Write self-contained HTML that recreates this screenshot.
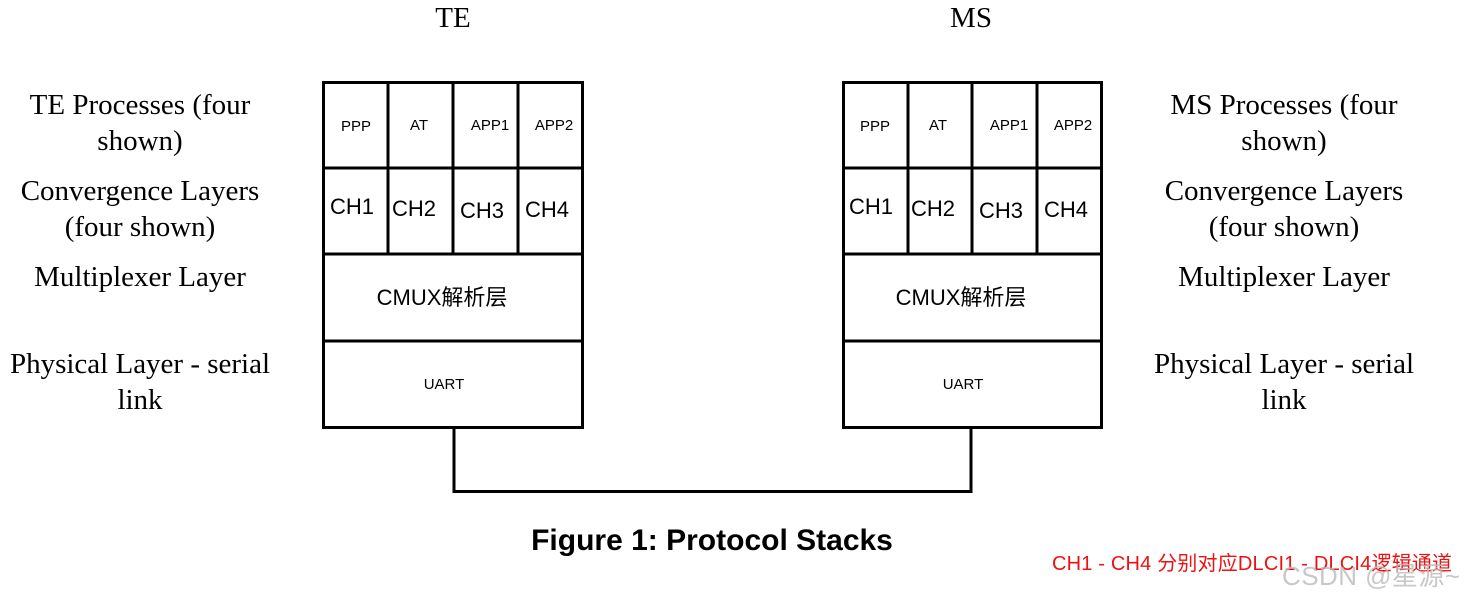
<!DOCTYPE html>
<html><head><meta charset="utf-8"><style>
html,body{margin:0;padding:0;background:#fff;}
svg{display:block;}
.s{font-family:"Liberation Serif",serif;font-size:29px;fill:#000;}
.n{font-family:"Liberation Sans","Noto Sans CJK SC",sans-serif;fill:#000;}
</style></head><body>
<svg width="1464" height="601" viewBox="0 0 1464 601" xmlns="http://www.w3.org/2000/svg">
<g stroke="#000" stroke-width="3" fill="none">
<rect x="323.5" y="82.5" width="259" height="345"/>
<line x1="323" y1="168" x2="582" y2="168"/><line x1="323" y1="254" x2="582" y2="254"/><line x1="323" y1="341" x2="582" y2="341"/>
<line x1="388" y1="82" x2="388" y2="254"/><line x1="453" y1="82" x2="453" y2="254"/><line x1="518" y1="82" x2="518" y2="254"/>
<rect x="843.5" y="82.5" width="258" height="345"/>
<line x1="843" y1="168" x2="1101" y2="168"/><line x1="843" y1="254" x2="1101" y2="254"/><line x1="843" y1="341" x2="1101" y2="341"/>
<line x1="908" y1="82" x2="908" y2="254"/><line x1="972" y1="82" x2="972" y2="254"/><line x1="1037" y1="82" x2="1037" y2="254"/>
<polyline points="454,428 454,491.5 971,491.5 971,428"/>
</g>
<g class="s" text-anchor="middle">
<text x="453" y="27">TE</text><text x="971" y="27">MS</text>
<text x="140" y="114">TE Processes (four</text><text x="140" y="150">shown)</text>
<text x="140" y="200">Convergence Layers</text><text x="140" y="236">(four shown)</text>
<text x="140" y="286">Multiplexer Layer</text>
<text x="140" y="373">Physical Layer - serial</text><text x="140" y="409">link</text>
<text x="1284" y="114">MS Processes (four</text><text x="1284" y="150">shown)</text>
<text x="1284" y="200">Convergence Layers</text><text x="1284" y="236">(four shown)</text>
<text x="1284" y="286">Multiplexer Layer</text>
<text x="1284" y="373">Physical Layer - serial</text><text x="1284" y="409">link</text>
</g>
<g class="n" text-anchor="middle" font-size="15">
<text x="356" y="131">PPP</text><text x="419" y="130">AT</text><text x="490" y="130">APP1</text><text x="554" y="130">APP2</text>
<text x="875" y="131">PPP</text><text x="938" y="130">AT</text><text x="1009" y="130">APP1</text><text x="1073" y="130">APP2</text>
<text x="444" y="389">UART</text><text x="963" y="389">UART</text>
</g>
<g class="n" text-anchor="middle" font-size="22">
<text x="352" y="214">CH1</text><text x="414" y="216">CH2</text><text x="482" y="218">CH3</text><text x="547" y="217">CH4</text>
<text x="871" y="214">CH1</text><text x="933" y="216">CH2</text><text x="1001" y="218">CH3</text><text x="1066" y="217">CH4</text>
<text x="442" y="305">CMUX解析层</text><text x="961" y="305">CMUX解析层</text>
</g>
<text class="n" x="712" y="550" text-anchor="middle" font-size="30" font-weight="bold">Figure 1: Protocol Stacks</text>
<text class="n" x="1052" y="570" font-size="20" textLength="400" style="fill:#ee1111">CH1 - CH4 分别对应DLCI1 - DLCI4逻辑通道</text>
<text class="n" x="1282" y="585" font-size="26" textLength="178" style="fill:#bbb;opacity:0.8">CSDN @星源~</text>
</svg>
</body></html>
